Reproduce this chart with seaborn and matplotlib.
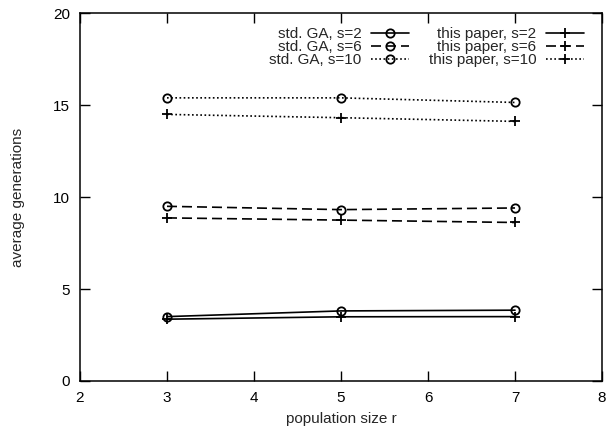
import matplotlib
matplotlib.use("Agg")
import matplotlib.pyplot as plt
import seaborn as sns

population = [3, 5, 7]

std_s2 = [3.5, 3.81, 3.85]
std_s6 = [9.5, 9.32, 9.41]
std_s10 = [15.4, 15.4, 15.15]

paper_s2 = [3.36, 3.49, 3.5]
paper_s6 = [8.87, 8.75, 8.62]
paper_s10 = [14.5, 14.32, 14.12]

sns.set_style("ticks")
plt.rcParams['font.family'] = ['Liberation Sans', 'DejaVu Sans']

fig = plt.figure(figsize=(6.12, 4.29), dpi=100)
ax = fig.add_axes([0.1307, 0.112, 0.853, 0.857])

dash = (0, (6, 3))
dot = (0, (1, 1.5))
series = [
    ("std. GA, s=2", std_s2, "o", "-"),
    ("std. GA, s=6", std_s6, "o", dash),
    ("std. GA, s=10", std_s10, "o", dot),
    ("this paper, s=2", paper_s2, "+", "-"),
    ("this paper, s=6", paper_s6, "+", dash),
    ("this paper, s=10", paper_s10, "+", dot),
]

for label, vals, mk, ls in series:
    sns.lineplot(x=population, y=vals, ax=ax, color="black", marker=mk,
                 markersize=6 if mk == "o" else 7.5, markerfacecolor="none",
                 markeredgecolor="black", markeredgewidth=1.3,
                 linewidth=1.2, linestyle=ls, label=label)

ax.set_xlim(2, 8)
ax.set_ylim(0, 20)
ax.set_xticks(range(2, 9))
ax.set_yticks(range(0, 21, 5))
ax.tick_params(direction="in", length=7.5, width=1, top=True, right=True,
               labelsize=11, colors="black", pad=7)
for sp in ax.spines.values():
    sp.set_visible(True)
    sp.set_linewidth(1.1)
    sp.set_color("black")

ax.set_xlabel("population size r", fontsize=11, labelpad=5)
ax.set_ylabel("average generations", fontsize=11, labelpad=20)

ax.legend(ncol=2, markerfirst=False, frameon=False, loc="upper right",
          fontsize=11, handlelength=2.5, labelspacing=-0.07,
          columnspacing=1.3, handletextpad=0.6, borderaxespad=0,
          bbox_to_anchor=(0.977, 0.978))

fig.savefig("out.png", dpi=100)
